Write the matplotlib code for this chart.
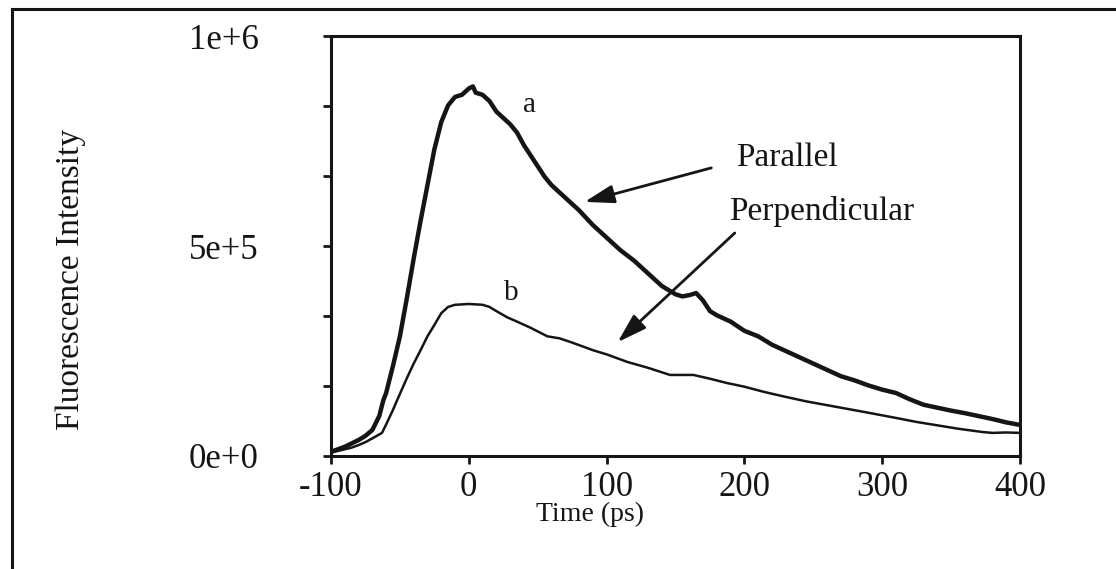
import matplotlib.pyplot as plt
from matplotlib.lines import Line2D

# ----------------------------------------------------------
# Data (time in ps, intensity in counts)
# ----------------------------------------------------------
time_a = [-100, -95, -90, -85, -80, -75, -70, -65, -62, -60, -55, -50, -45,
          -40, -35, -30, -25, -20, -15, -10, -5, 0, 3, 5, 10, 15, 20, 25,
          30, 35, 40, 45, 50, 55, 60, 70, 80, 90, 100, 110, 120, 130, 140,
          150, 155, 160, 165, 170, 175, 180, 190, 200, 210, 220, 230, 240,
          250, 260, 270, 280, 290, 300, 310, 320, 330, 340, 350, 360, 370,
          380, 390, 400]
parallel = [1.0e4, 1.6e4, 2.2e4, 3.0e4, 3.8e4, 4.8e4, 6.2e4, 9.5e4, 1.33e5,
            1.5e5, 2.15e5, 2.85e5, 3.75e5, 4.7e5, 5.6e5, 6.45e5, 7.3e5,
            7.95e5, 8.35e5, 8.55e5, 8.6e5, 8.75e5, 8.8e5, 8.65e5, 8.6e5,
            8.45e5, 8.2e5, 8.05e5, 7.9e5, 7.7e5, 7.4e5, 7.15e5, 6.9e5, 6.65e5,
            6.45e5, 6.15e5, 5.85e5, 5.5e5, 5.2e5, 4.9e5, 4.65e5, 4.35e5,
            4.05e5, 3.85e5, 3.8e5, 3.83e5, 3.88e5, 3.7e5, 3.45e5, 3.35e5,
            3.2e5, 2.98e5, 2.85e5, 2.65e5, 2.5e5, 2.35e5, 2.2e5, 2.05e5,
            1.9e5, 1.8e5, 1.68e5, 1.58e5, 1.5e5, 1.35e5, 1.22e5, 1.15e5,
            1.08e5, 1.02e5, 9.5e4, 8.8e4, 8.0e4, 7.4e4]

time_b = [-100, -95, -90, -85, -80, -75, -70, -63, -60, -55, -52, -45, -40,
          -35, -30, -25, -20, -15, -10, 0, 10, 15, 20, 28, 35, 45, 57, 66,
          75, 90, 100, 115, 130, 146, 163, 175, 187, 200, 215, 231, 245, 260,
          275, 290, 311, 325, 340, 355, 373, 380, 390, 400]
perpendicular = [8e3, 1.2e4, 1.6e4, 2.0e4, 2.6e4, 3.3e4, 4.2e4, 5.5e4, 7.5e4,
                 1.1e5, 1.33e5, 1.85e5, 2.2e5, 2.52e5, 2.85e5, 3.12e5, 3.4e5,
                 3.55e5, 3.6e5, 3.62e5, 3.6e5, 3.55e5, 3.45e5, 3.3e5, 3.2e5,
                 3.05e5, 2.85e5, 2.8e5, 2.7e5, 2.52e5, 2.42e5, 2.24e5, 2.1e5,
                 1.93e5, 1.93e5, 1.84e5, 1.74e5, 1.65e5, 1.52e5, 1.4e5,
                 1.3e5, 1.21e5, 1.12e5, 1.03e5, 9.0e4, 8.1e4, 7.3e4, 6.5e4,
                 5.7e4, 5.5e4, 5.6e4, 5.5e4]

x_ticks = [-100, 0, 100, 200, 300, 400]
y_ticks = [0, 1e6 / 6, 2e6 / 6, 5e5, 4e6 / 6, 5e6 / 6, 1e6]
y_tick_labels = ["0e+0", "", "", "5e+5", "", "", "1e+6"]

plt.rcParams["font.family"] = ["Liberation Serif", "DejaVu Serif"]
ink = "#151515"

# ----------------------------------------------------------
# Figure
# ----------------------------------------------------------
fig = plt.figure(figsize=(11.16, 5.69), dpi=100)
ax = fig.add_axes([0.2966, 0.1986, 0.6174, 0.7381])

ax.plot(time_a, parallel, color=ink, linewidth=3.2, solid_joinstyle="round")
ax.plot(time_b, perpendicular, color=ink, linewidth=1.8, solid_joinstyle="round")

ax.set_xlim(-100, 400)
ax.set_ylim(0, 1e6)
ax.set_xticks(x_ticks)
ax.set_xticklabels([str(t) for t in x_ticks])
ax.set_yticks(y_ticks)
ax.set_yticklabels(y_tick_labels)

for sp in ax.spines.values():
    sp.set_linewidth(2.2)
    sp.set_color(ink)
ax.tick_params(axis="both", direction="out", length=6, width=2, colors=ink,
               labelsize=25)
ax.tick_params(axis="y", pad=46)
ax.tick_params(axis="x", pad=5)

ax.set_xlabel("Time (ps)", fontsize=20, color=ink)
ax.xaxis.set_label_coords(0.376, -0.11)
ax.set_ylabel("Fluorescence Intensity", fontsize=24, color=ink)
ax.yaxis.set_label_coords(-0.356, 0.42)

# curve letters
ax.text(44, 8.36e5, "a", fontsize=21, ha="center", va="center", color=ink)
ax.text(31, 3.88e5, "b", fontsize=21, ha="center", va="center", color=ink)

# labels with arrows
ax.text(194, 7.1e5, "Parallel", fontsize=24, ha="left", va="center", color=ink)
ax.text(189, 5.81e5, "Perpendicular", fontsize=24, ha="left", va="center",
        color=ink)
arrow = dict(arrowstyle="-|>,head_length=0.9,head_width=0.28",
             mutation_scale=20, color=ink, lw=2, shrinkA=0, shrinkB=0)
ax.annotate("", xy=(84, 6.05e5), xytext=(176, 6.86e5), arrowprops=arrow)
ax.annotate("", xy=(108, 2.71e5), xytext=(193, 5.31e5), arrowprops=arrow)

# outer frame of the scanned figure (top and left edges)
fig.add_artist(Line2D([12 / 1116, 1.0], [1 - 9 / 569, 1 - 9 / 569],
                      transform=fig.transFigure, color=ink, linewidth=2.2))
fig.add_artist(Line2D([12 / 1116, 12 / 1116], [0.0, 1 - 9 / 569],
                      transform=fig.transFigure, color=ink, linewidth=2.2))

fig.savefig("out.png", dpi=100)
